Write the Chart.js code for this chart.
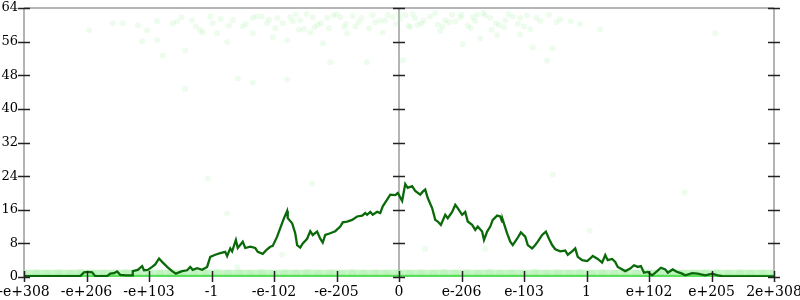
<!DOCTYPE html>
<html>
<head>
<meta charset="utf-8">
<script src="https://cdn.jsdelivr.net/npm/chart.js@4"></script>
<style>
  html, body { margin: 0; padding: 0; background: #fff; }
  #wrap { width: 800px; height: 300px; }
</style>
</head>
<body>
<div id="wrap"><canvas id="chart"></canvas></div>
<script>
// tick labels along the bottom, one per integer position 0..12
var xLabels = ['-e+308', '-e+206', '-e+103', '-1', '-e-102', '-e-205', '0',
               'e-206', 'e-103', '1', 'e+102', 'e+205', '2e+308'];
// positions where the vertical axis lines stand
var axisAt = [0, 6, 12];

// the dark green running line
var lineX = [0, 0.26, 0.58, 0.90, 0.96, 1.02, 1.09, 1.14, 1.22, 1.33, 1.38, 1.44, 1.49, 1.54, 1.63, 1.73,
  1.74, 1.82, 1.89, 1.92, 1.98, 2.05, 2.10, 2.16, 2.21, 2.29, 2.37, 2.43, 2.53, 2.61, 2.66, 2.70,
  2.77, 2.85, 2.93, 2.98, 3.06, 3.14, 3.22, 3.25, 3.30, 3.33, 3.39, 3.42, 3.50, 3.54, 3.62, 3.70,
  3.74, 3.82, 3.89, 3.94, 3.98, 4.05, 4.13, 4.16, 4.21, 4.22, 4.29, 4.34, 4.37, 4.42, 4.46, 4.53,
  4.58, 4.62, 4.69, 4.74, 4.78, 4.82, 4.90, 4.98, 5.06, 5.10, 5.17, 5.25, 5.33, 5.41, 5.46, 5.49,
  5.54, 5.58, 5.65, 5.70, 5.74, 5.81, 5.86, 5.94, 5.98, 6.05, 6.10, 6.14, 6.21, 6.26, 6.34, 6.38,
  6.42, 6.46, 6.53, 6.58, 6.62, 6.67, 6.74, 6.78, 6.85, 6.90, 6.94, 7.01, 7.06, 7.10, 7.17, 7.22,
  7.26, 7.33, 7.36, 7.41, 7.46, 7.50, 7.57, 7.62, 7.65, 7.66, 7.73, 7.78, 7.82, 7.89, 7.95, 8.02,
  8.06, 8.13, 8.18, 8.22, 8.29, 8.35, 8.40, 8.45, 8.50, 8.58, 8.66, 8.70, 8.77, 8.82, 8.86, 8.93,
  9.01, 9.06, 9.10, 9.18, 9.25, 9.30, 9.34, 9.41, 9.46, 9.50, 9.62, 9.70, 9.76, 9.82, 9.87, 9.92,
  9.98, 10.05, 10.13, 10.19, 10.26, 10.30, 10.38, 10.45, 10.53, 10.58, 10.69, 10.78, 10.90, 11.01,
  11.10, 11.17, 11.46, 11.78, 12];
var lineY = [0.2, 0.2, 0.2, 0.2, 1.1, 1.2, 1.1, 0.2, 0.2, 0.2, 0.8, 0.9, 1.3, 0.5, 0.4, 0.4,
  1.4, 1.7, 2.6, 1.6, 1.7, 2.4, 3.0, 4.4, 3.6, 2.4, 1.4, 0.8, 1.4, 1.6, 2.4, 1.7,
  2.1, 1.7, 2.4, 4.8, 5.3, 5.7, 6.0, 5.0, 6.8, 6.1, 8.8, 6.9, 8.4, 6.9, 7.2, 6.9,
  6.0, 5.5, 6.6, 7.2, 7.4, 9.6, 12.8, 14.0, 15.7, 14.0, 12.8, 10.4, 7.6, 7.0, 8.0, 9.1,
  10.9, 10.0, 10.8, 9.1, 8.2, 10.0, 10.4, 10.9, 12.0, 13.0, 13.2, 13.6, 14.4, 14.6, 15.2, 14.8,
  15.5, 14.8, 15.5, 15.2, 16.8, 18.4, 19.6, 19.5, 20.0, 18.1, 22.1, 21.2, 21.6, 20.5, 19.6, 20.3,
  20.8, 18.8, 16.4, 13.6, 13.2, 12.4, 14.8, 14.0, 15.5, 17.2, 16.4, 14.8, 15.5, 13.2, 12.4, 11.2,
  12.0, 10.8, 8.8, 10.8, 12.0, 13.6, 14.6, 14.4, 13.2, 13.6, 10.4, 8.4, 7.6, 9.1, 10.6, 9.6,
  7.6, 6.8, 7.6, 8.4, 10.0, 10.8, 9.1, 7.6, 6.6, 6.1, 6.3, 5.3, 6.1, 6.8, 4.8, 4.0,
  3.8, 4.4, 5.0, 4.3, 3.4, 5.2, 4.0, 4.3, 3.6, 2.4, 1.4, 2.0, 2.8, 2.4, 2.6, 1.0,
  1.2, 0.4, 1.4, 2.2, 1.8, 1.0, 1.8, 1.2, 0.8, 0.4, 0.9, 0.8, 0.4, 0.8,
  0.4, 0.2, 0.15, 0.15, 0.15];

// faint scattered points, upper cloud and a few strays
var cloudX = [1.04, 1.42, 1.58, 1.82, 1.97, 1.89, 2.13, 2.22, 2.58, 2.58, 2.13, 2.38, 2.69, 2.82,
  3.02, 3.25, 3.42, 3.66, 4.21, 4.90, 5.49, 3.34, 3.66, 3.89, 4.14, 4.26, 4.42, 4.62, 4.85, 5.06,
  5.26, 5.58, 5.90, 3.66, 3.98, 4.21, 4.58, 4.78, 5.17, 5.74, 3.09, 2.86, 6.10, 6.26, 6.50, 6.74,
  6.98, 7.22, 7.46, 7.70, 7.94, 8.26, 8.58, 6.18, 6.66, 7.02, 7.30, 7.57, 7.94, 8.14, 8.46, 8.37,
  6.06, 11.06, 9.22, 8.90, 3.50, 3.80, 4.02, 4.35, 4.70, 5.00, 5.35, 5.70, 6.00, 6.36, 6.85, 7.10,
  7.38, 7.82, 8.10, 5.12, 4.48, 3.92, 2.98, 6.62, 7.60,
  2.45, 2.75, 3.15, 3.55, 3.72, 4.05, 4.30, 4.52, 4.75, 4.95, 5.15, 5.40, 5.62, 5.82, 6.02, 6.22,
  6.40, 6.58, 6.80, 7.00, 7.18, 7.35, 7.55, 7.75, 7.90, 8.05, 8.20, 8.40, 8.52, 5.52, 5.95, 6.30,
  6.70, 7.15, 7.68, 8.00, 4.40, 4.88, 5.30, 3.28, 2.52, 8.75, 6.90, 5.78, 6.15, 7.48, 7.25, 4.65,
  8.46, 10.57, 9.05, 6.42, 7.38, 2.94, 3.25, 4.61, 4.13, 3.41];
var cloudY = [58.7, 60.4, 60.4, 59.9, 58.7, 56.1, 56.3, 52.7, 53.9, 44.8, 60.9, 60.4, 61.1, 58.7,
  60.4, 55.9, 47.2, 46.3, 47.0, 51.1, 51.1, 61.1, 61.6, 60.4, 60.4, 61.8, 61.1, 61.8, 61.6, 61.8,
  62.1, 62.3, 61.8, 58.0, 57.0, 56.3, 58.2, 55.6, 58.0, 58.2, 58.0, 58.2, 62.3, 61.6, 62.0, 61.1,
  61.8, 60.9, 61.6, 61.1, 61.6, 60.9, 61.3, 59.5, 58.5, 55.4, 56.8, 57.5, 57.7, 54.6, 54.4, 51.5,
  51.5, 58.0, 58.9, 60.2, 59.6, 62.0, 59.2, 62.4, 60.0, 62.5, 60.6, 61.0, 62.6, 60.3, 62.4, 59.8,
  62.2, 62.0, 59.0, 59.4, 59.0, 61.2, 62.0, 60.0, 59.9,
  60.8, 59.6, 61.4, 60.2, 62.0, 61.6, 60.8, 62.6, 60.4, 62.2, 60.2, 61.6, 60.6, 62.4, 61.4, 62.6,
  61.0, 62.8, 60.6, 62.4, 61.8, 62.8, 60.4, 62.6, 60.2, 62.2, 61.6, 62.4, 60.6, 59.2, 60.2, 60.0,
  59.6, 59.2, 59.4, 59.6, 58.8, 59.2, 59.6, 59.8, 61.8, 60.8, 60.8, 61.0, 59.8, 58.8, 62.4, 59.4,
  24.4, 20.1, 11.0, 6.7, 6.7, 23.5, 15.1, 22.3, 5.3, 2.4];

// the pale band of points hugging zero
var lowX = [0.0, 0.2, 0.37, 0.55, 0.74, 0.9, 1.1, 1.28, 1.45, 1.63, 1.82, 2.0, 2.18, 2.35, 2.55,
  2.72, 2.9, 3.08, 3.27, 3.45, 3.62, 3.8, 4.0, 4.17, 4.35, 4.53, 4.7, 4.9, 5.08, 5.25, 5.43, 5.62,
  5.8, 6.0, 6.17, 6.35, 6.55, 6.72, 6.9, 7.08, 7.26, 7.45, 7.62, 7.8, 8.0, 8.18, 8.36, 8.54, 8.72,
  8.9, 9.08, 9.26, 9.45, 9.62, 9.8, 10.0, 10.18, 10.36, 10.55, 10.72, 10.9, 11.08, 11.27, 11.45,
  11.63, 11.82, 12.0];
var lowY = [0.8, 0.9, 0.7, 0.9, 0.8, 1.0, 0.8, 0.9, 0.7, 1.0, 0.8, 0.9, 0.8, 1.0, 0.7, 0.9,
  0.8, 1.0, 0.8, 0.9, 0.7, 1.0, 0.8, 0.9, 0.8, 1.0, 0.7, 0.9, 0.8, 1.0, 0.8, 0.9, 0.7, 1.0,
  0.8, 0.9, 0.8, 1.0, 0.7, 0.9, 0.8, 1.0, 0.8, 0.9, 0.7, 1.0, 0.8, 0.9, 0.8, 1.0, 0.7, 0.9,
  0.8, 1.0, 0.8, 0.9, 0.7, 1.0, 0.8, 0.9, 0.8, 1.0, 0.7, 0.9, 0.8, 0.9, 0.8];
// the dense strips along the bottom (pale upper part, bright lower edge)
var paleX = [0, 12];
var paleY = [0.9, 0.9];
var glowX = [0, 12];
var glowY = [0.15, 0.15];

function pts(xs, ys) {
  return xs.map(function (x, i) { return { x: x, y: ys[i] }; });
}

// gray axis lines plus ticks that cross them
var axisFrame = {
  id: 'axisFrame',
  beforeDatasetsDraw: function (chart) {
    var ctx = chart.ctx, a = chart.chartArea, x = chart.scales.x;
    ctx.save();
    ctx.strokeStyle = '#b4b4b4';
    ctx.lineWidth = 2;
    ctx.beginPath();
    ctx.moveTo(a.left, a.top);
    ctx.lineTo(a.right, a.top);
    axisAt.forEach(function (v) {
      var px = Math.round(x.getPixelForValue(v));
      ctx.moveTo(px, a.top);
      ctx.lineTo(px, a.bottom);
    });
    ctx.stroke();
    ctx.restore();
  },
  afterDatasetsDraw: function (chart) {
    var ctx = chart.ctx, a = chart.chartArea, x = chart.scales.x, y = chart.scales.y;
    ctx.save();
    ctx.lineWidth = 1.5;
    axisAt.forEach(function (v) {
      var px = Math.round(x.getPixelForValue(v));
      y.ticks.forEach(function (t) {
        var py = Math.round(y.getPixelForValue(t.value)) + 0.5;
        var major = t.value % 8 === 0;
        ctx.strokeStyle = major ? '#222' : '#8a8a8a';
        var h = major ? 6 : 3;
        ctx.beginPath();
        ctx.moveTo(px - h, py);
        ctx.lineTo(px + h, py);
        ctx.stroke();
      });
    });
    ctx.strokeStyle = '#222';
    x.ticks.forEach(function (t) {
      var px = Math.round(x.getPixelForValue(t.value)) + 0.5;
      ctx.beginPath();
      ctx.moveTo(px, a.bottom - 6);
      ctx.lineTo(px, a.bottom + 5);
      ctx.stroke();
    });
    ctx.restore();
  }
};

Chart.defaults.font.family = '"DejaVu Serif", serif';
Chart.defaults.font.size = 13;
Chart.defaults.color = '#000';

new Chart(document.getElementById('chart'), {
  type: 'scatter',
  data: {
    datasets: [
      {
        data: pts(lineX, lineY),
        showLine: true,
        borderColor: '#0a6a0a',
        borderWidth: 2.3,
        pointRadius: 0,
        tension: 0,
        order: 0
      },
      {
        data: pts(glowX, glowY),
        showLine: true,
        borderColor: 'rgba(70, 220, 70, 0.85)',
        borderWidth: 3,
        pointRadius: 0,
        order: 2
      },
      {
        data: pts(paleX, paleY),
        showLine: true,
        borderColor: 'rgba(150, 236, 150, 0.5)',
        borderWidth: 7,
        pointRadius: 0,
        order: 4
      },
      {
        data: pts(lowX, lowY),
        pointRadius: 4,
        pointBorderWidth: 0,
        backgroundColor: 'rgba(144, 238, 144, 0.2)',
        order: 3
      },
      {
        data: pts(cloudX, cloudY),
        pointRadius: 3,
        pointBorderWidth: 0,
        backgroundColor: 'rgba(144, 238, 144, 0.16)',
        order: 1
      }
    ]
  },
  options: {
    responsive: true,
    maintainAspectRatio: false,
    animation: false,
    layout: { padding: { top: 8, right: 26, left: 0, bottom: 0 } },
    plugins: { legend: { display: false }, tooltip: { enabled: false } },
    scales: {
      x: {
        type: 'linear',
        min: 0,
        max: 12,
        grid: { display: false, drawTicks: false },
        border: { display: false },
        ticks: {
          stepSize: 1,
          autoSkip: false,
          maxRotation: 0,
          padding: 7,
          font: { size: 14 },
          callback: function (v) { return xLabels[v]; }
        },
        afterFit: function (s) {
          s.height = 23;
          s.paddingLeft = 0;
          s.paddingRight = 0;
        }
      },
      y: {
        min: 0,
        max: 64,
        grid: { display: false, drawTicks: false },
        border: { display: false },
        ticks: {
          stepSize: 4,
          padding: 6,
          callback: function (v) { return v % 8 === 0 ? v : ''; }
        },
        afterFit: function (s) {
          s.width = 24;
          s.paddingTop = 0;
          s.paddingBottom = 0;
        }
      }
    }
  },
  plugins: [axisFrame]
});
</script>
</body>
</html>
